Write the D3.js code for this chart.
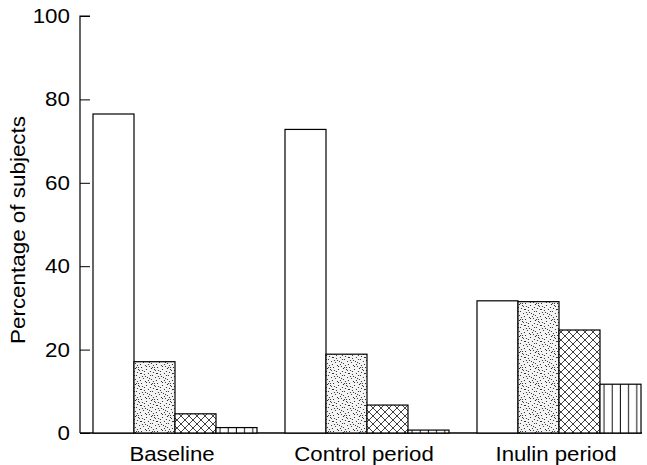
<!DOCTYPE html>
<html><head><meta charset="utf-8">
<script src="https://cdn.jsdelivr.net/npm/d3@7"></script>
<style>
html,body{margin:0;padding:0;background:#fff;}
text{font-family:"Liberation Sans",Arial,sans-serif;fill:#000;}
</style></head>
<body>
<svg id="chart" width="647" height="465"></svg>
<script>
const categories = ["Baseline", "Control period", "Inulin period"];
const seriesNames = ["s1", "s2", "s3", "s4"];
const series1 = [76.5, 72.8, 31.7];
const series2 = [17.1, 18.9, 31.5];
const series3 = [4.6, 6.7, 24.7];
const series4 = [1.3, 0.7, 11.7];
const yTicks = [0, 20, 40, 60, 80, 100];
const yLabel = "Percentage of subjects";

const allSeries = [series1, series2, series3, series4];
const data = categories.map((c, i) => ({cat: c, vals: allSeries.map((s, j) => ({key: seriesNames[j], v: s[i]}))}));

const svg = d3.select("#chart");
const defs = svg.append("defs");

// stipple pattern (fixed dot layout)
const dots = [[1,2],[5,1],[9,3],[13,1],[3,6],[7,5],[11,7],[15,5],[2,10],[6,9],[10,11],[14,9],[4,13],[8,14],[12,13],[0,15],[3,3],[12,4],[7,12],[15,12],[1,8],[9,7],[5,14],[13,15],[10,0],[4,8],[14,2],[8,10],[0,5],[11,15]];
const st = defs.append("pattern").attr("id","stip").attr("patternUnits","userSpaceOnUse").attr("width",16).attr("height",16);
st.append("rect").attr("width",16).attr("height",16).attr("fill","#f4f4f4");
st.selectAll("circle").data(dots).enter().append("circle")
  .attr("cx", d=>d[0]+0.5).attr("cy", d=>d[1]+0.5).attr("r",0.6).attr("fill","#222");

// crosshatch
const ch = defs.append("pattern").attr("id","cross").attr("patternUnits","userSpaceOnUse").attr("width",8).attr("height",8);
ch.append("rect").attr("width",8).attr("height",8).attr("fill","#fff");
ch.append("path").attr("d","M0,0L8,8M8,0L0,8").attr("stroke","#111").attr("stroke-width",0.8);

// vertical stripes
const vs = defs.append("pattern").attr("id","vert").attr("patternUnits","userSpaceOnUse").attr("width",8.2).attr("height",8);
vs.append("rect").attr("width",8.2).attr("height",8).attr("fill","#fff");
vs.append("path").attr("d","M4,0L4,8").attr("stroke","#111").attr("stroke-width",1);

const fills = {s1:"#fff", s2:"url(#stip)", s3:"url(#cross)", s4:"url(#vert)"};

const axisX = 80, y0 = 433, y100 = 16;
const y = d3.scaleLinear().domain([0,100]).range([y0, y100]);
const x0 = d3.scaleBand().domain(categories).range([93, 641]).paddingInner(28/192).paddingOuter(0);
const x1 = d3.scaleBand().domain(seriesNames).range([0, x0.bandwidth()]).padding(0);

// baseline
svg.append("line").attr("x1", axisX).attr("x2", 642).attr("y1", y0).attr("y2", y0).attr("stroke","#000").attr("stroke-width",1.3);

// bars
const g = svg.selectAll("g.grp").data(data).enter().append("g").attr("class","grp")
  .attr("transform", d=>`translate(${x0(d.cat)},0)`);
g.selectAll("rect").data(d=>d.vals).enter().append("rect")
  .attr("x", d=>x1(d.key)).attr("width", x1.bandwidth())
  .attr("y", d=>y(d.v)).attr("height", d=>y0 - y(d.v))
  .attr("fill", d=>fills[d.key]).attr("stroke","#000").attr("stroke-width",1.2);

// y axis
const yAxis = d3.axisRight(y).tickValues(yTicks).tickSize(10).tickFormat("");
const ax = svg.append("g").attr("transform",`translate(${axisX},0)`).call(yAxis);
ax.select(".domain").attr("stroke","#000").attr("stroke-width",1.2).attr("d",`M10,${y100}H0V${y0}`);
ax.selectAll(".tick line").attr("stroke","#000").attr("stroke-width",1);

// tick labels
svg.selectAll("text.yt").data(yTicks).enter().append("text").attr("class","yt")
  .attr("text-anchor","end").attr("font-size",20)
  .attr("transform", d=>`translate(70,${y(d)+7}) scale(1.12,1)`)
  .text(d=>d);

// category labels
svg.selectAll("text.xl").data(categories).enter().append("text").attr("class","xl")
  .attr("text-anchor","middle").attr("font-size",19.5)
  .attr("transform", d=>`translate(${x0(d)+x0.bandwidth()/2 - 3},461) scale(1.14,1)`)
  .text(d=>d);

// y label
svg.append("text").attr("text-anchor","middle").attr("font-size",19.5)
  .attr("transform","translate(25,230) rotate(-90) scale(1.15,1)")
  .text(yLabel);
</script>
</body></html>
